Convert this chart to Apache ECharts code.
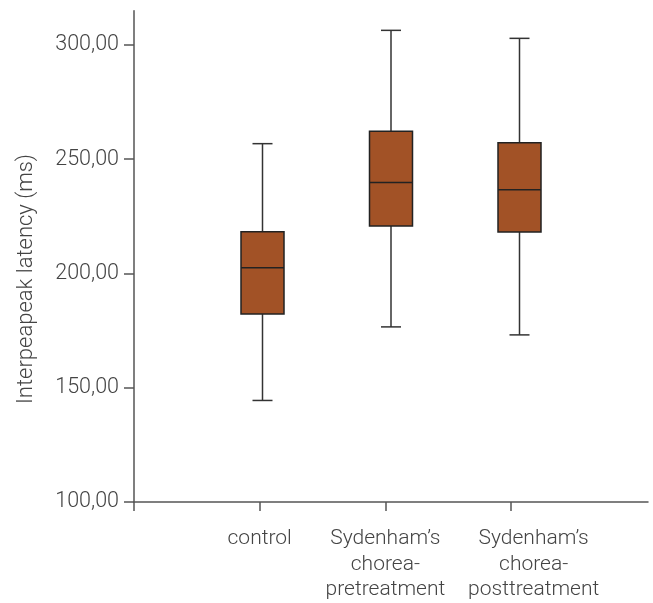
<!DOCTYPE html>
<html>
<head>
<meta charset="utf-8">
<script src="https://cdn.jsdelivr.net/npm/echarts@6/dist/echarts.min.js"></script>
<style>html,body{margin:0;padding:0;background:#fff}#c{width:653px;height:603px}</style>
</head>
<body>
<div id="c"></div>
<script>
const categories = ['control', 'Sydenham’s\nchorea-\npretreatment', 'Sydenham’s\nchorea-\nposttreatment'];
const mins    = [144.4, 176.6, 173.1];
const q1s     = [182.2, 220.8, 218.1];
const medians = [202.5, 239.8, 236.6];
const q3s     = [218.2, 262.2, 257.2];
const maxs    = [256.8, 306.4, 302.9];
const yTicks  = [100, 150, 200, 250, 300];
const yTitle  = 'Interpeapeak latency (ms)';

const boxData = categories.map((c, i) => [i + 1, mins[i], q1s[i], medians[i], q3s[i], maxs[i]]);

const FONT = 'Roboto';
const TXT = '#444';
const AX = '#555';

const chart = echarts.init(document.getElementById('c'), null, {renderer: 'canvas'});
chart.setOption({
  animation: false,
  grid: {left: 134, right: 5, top: 10.7, bottom: 97.7},
  xAxis: [{
    type: 'value', min: 0, max: 4.09,
    axisLine: {show: true, lineStyle: {color: AX, width: 1.5}},
    axisTick: {show: true, length: 9, customValues: [0, 1, 2, 3], lineStyle: {color: AX, width: 1.5}},
    axisLabel: {
      customValues: [1, 2, 3.18], margin: 24, hideOverlap: false, showMinLabel: true, showMaxLabel: true,
      formatter: v => categories[Math.round(v) - 1] || '',
      color: TXT, fontFamily: FONT, fontWeight: 300, fontSize: 21, lineHeight: 25.7, align: 'center'
    },
    splitLine: {show: false}
  }, {
    type: 'value', min: 0, max: 4, show: false
  }],
  yAxis: {
    type: 'value', min: 100, max: 315, interval: 50,
    axisLine: {show: true, lineStyle: {color: AX, width: 1.5}},
    axisTick: {show: true, length: 10, customValues: yTicks, lineStyle: {color: AX, width: 1.5}},
    axisLabel: {
      customValues: yTicks, margin: 15,
      formatter: v => v.toFixed(2).replace('.', ','),
      color: TXT, fontFamily: FONT, fontWeight: 300, fontSize: 21.5
    },
    splitLine: {show: false}
  },
  graphic: [{
    type: 'text', x: 26, y: 279, rotation: Math.PI / 2,
    style: {text: yTitle, fill: TXT, font: '300 22px Roboto', align: 'center', verticalAlign: 'middle'}
  }],
  series: [{
    type: 'custom',
    xAxisIndex: 1,
    data: boxData,
    encode: {x: 0, y: [1, 2, 3, 4, 5]},
    renderItem: function (params, api) {
      const x = api.value(0);
      const pMin = api.coord([x, api.value(1)]);
      const pQ1 = api.coord([x, api.value(2)]);
      const pMed = api.coord([x, api.value(3)]);
      const pQ3 = api.coord([x, api.value(4)]);
      const pMax = api.coord([x, api.value(5)]);
      const cx = pMed[0];
      const hw = 21.5, cw = 10;
      const lineStyle = {stroke: '#333', lineWidth: 1.5};
      return {
        type: 'group',
        children: [
          {type: 'line', shape: {x1: cx, y1: pMax[1], x2: cx, y2: pQ3[1]}, style: lineStyle},
          {type: 'line', shape: {x1: cx, y1: pQ1[1], x2: cx, y2: pMin[1]}, style: lineStyle},
          {type: 'line', shape: {x1: cx - cw, y1: pMax[1], x2: cx + cw, y2: pMax[1]}, style: lineStyle},
          {type: 'line', shape: {x1: cx - cw, y1: pMin[1], x2: cx + cw, y2: pMin[1]}, style: lineStyle},
          {type: 'rect', shape: {x: cx - hw, y: pQ3[1], width: hw * 2, height: pQ1[1] - pQ3[1]},
           style: {fill: '#A25226', stroke: '#222', lineWidth: 1.5}},
          {type: 'line', shape: {x1: cx - hw, y1: pMed[1], x2: cx + hw, y2: pMed[1]}, style: {stroke: '#222', lineWidth: 1.5}}
        ]
      };
    }
  }]
});
</script>
</body>
</html>
